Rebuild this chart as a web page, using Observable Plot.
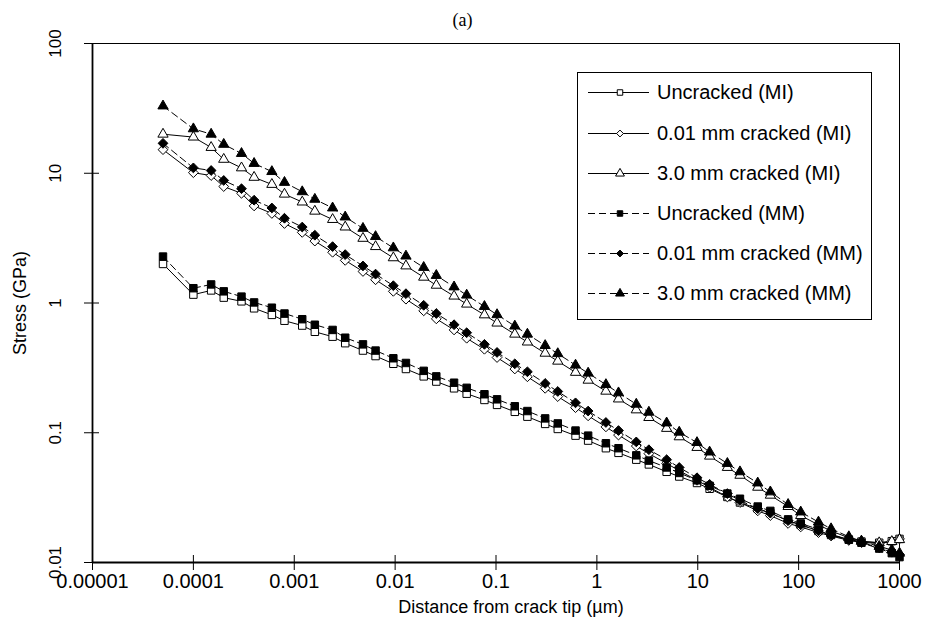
<!DOCTYPE html>
<html>
<head>
<meta charset="utf-8">
<script src="https://cdn.jsdelivr.net/npm/d3@7"></script>
<script src="https://cdn.jsdelivr.net/npm/@observablehq/plot@0.6"></script>
<style>
  body { margin: 0; background: #fff; font-family: "Liberation Sans", Arial, sans-serif; }
  #wrap { position: relative; width: 925px; height: 637px; padding-top: 30px; box-sizing: border-box; }
  #title { position: absolute; left: 0; top: 7px; width: 925px; text-align: center; line-height: 26px;
           font-family: "Liberation Serif", "Times New Roman", serif; font-size: 18px; color: #000; }
  #legend { position: absolute; left: 577px; top: 72px; width: 293px; height: 246px; border: 1px solid #000;
            background: #fff; }
  .row { position: absolute; left: 0; height: 20px; width: 293px; }
  .row svg { position: absolute; left: 10px; top: 0; }
  .row span { position: absolute; left: 79px; top: 0; line-height: 20px; font-size: 20px; color: #000; white-space: nowrap; }
</style>
</head>
<body>
<div id="wrap">
  <div id="title">(a)</div>
  <div id="chart"></div>
  <div id="legend"></div>
</div>
<script>
// ---- data ----
const xs = [0.00005, 0.0001, 0.00015, 0.0002, 0.0003, 0.0004, 0.0006, 0.0008, 0.0012, 0.0016,
            0.0024, 0.0032, 0.0048, 0.0064, 0.0096, 0.0128, 0.0192, 0.0256, 0.0384, 0.0512,
            0.0768, 0.1024, 0.1536, 0.2048, 0.3072, 0.4096, 0.6144, 0.8192, 1.229, 1.638,
            2.458, 3.277, 4.915, 6.554, 9.83, 13.11, 19.66, 26.21, 39.32, 52.43,
            78.64, 104.9, 157.3, 209.7, 314.6, 419.4, 629.1, 838.9, 1000];

const uncrackedMI = [2.0, 1.16, 1.25, 1.1, 1.03, 0.91, 0.81, 0.73, 0.67, 0.60,
                     0.55, 0.49, 0.43, 0.39, 0.34, 0.31, 0.272, 0.248, 0.22, 0.20,
                     0.179, 0.164, 0.145, 0.133, 0.117, 0.107, 0.095, 0.087, 0.076, 0.070,
                     0.062, 0.057, 0.050, 0.046, 0.041, 0.037, 0.032, 0.029, 0.026, 0.024,
                     0.021, 0.0195, 0.0175, 0.0163, 0.015, 0.0145, 0.0142, 0.0146, 0.0152];
const crack001MI = [15.2, 10.1, 9.6, 7.9, 7.0, 5.6, 4.9, 4.1, 3.5, 3.0,
                    2.46, 2.13, 1.75, 1.51, 1.23, 1.07, 0.87, 0.755, 0.62, 0.535,
                    0.44, 0.38, 0.31, 0.27, 0.22, 0.19, 0.156, 0.135, 0.111, 0.096,
                    0.079, 0.069, 0.058, 0.051, 0.043, 0.038, 0.032, 0.029, 0.025, 0.023,
                    0.020, 0.0188, 0.017, 0.016, 0.0148, 0.0143, 0.0140, 0.0145, 0.0152];
const crack30MI = [20, 19, 15.8, 12.8, 11, 9.3, 8.2, 6.9, 6.0, 5.1,
                   4.4, 3.85, 3.15, 2.72, 2.23, 1.93, 1.58, 1.37, 1.13, 0.98,
                   0.81, 0.70, 0.575, 0.50, 0.41, 0.356, 0.292, 0.254, 0.209, 0.182,
                   0.150, 0.131, 0.108, 0.093, 0.077, 0.066, 0.054, 0.047, 0.038, 0.033,
                   0.027, 0.023, 0.0195, 0.0175, 0.0155, 0.0146, 0.0142, 0.0145, 0.0150];
const uncrackedMM = [2.28, 1.3, 1.39, 1.23, 1.12, 1.01, 0.92, 0.83, 0.75, 0.68,
                     0.62, 0.54, 0.48, 0.43, 0.375, 0.345, 0.30, 0.272, 0.243, 0.222,
                     0.198, 0.181, 0.160, 0.147, 0.129, 0.118, 0.104, 0.095, 0.083, 0.076,
                     0.067, 0.061, 0.054, 0.049, 0.043, 0.039, 0.034, 0.031, 0.027, 0.025,
                     0.0215, 0.020, 0.018, 0.0165, 0.015, 0.0142, 0.0128, 0.0118, 0.011];
const crack001MM = [17, 11, 10.5, 8.8, 7.6, 6.2, 5.4, 4.5, 3.85, 3.33,
                    2.72, 2.36, 1.93, 1.67, 1.36, 1.18, 0.96, 0.83, 0.68, 0.59,
                    0.48, 0.416, 0.34, 0.295, 0.24, 0.208, 0.170, 0.147, 0.12, 0.104,
                    0.085, 0.074, 0.062, 0.054, 0.045, 0.040, 0.034, 0.030, 0.026, 0.024,
                    0.021, 0.0195, 0.0175, 0.0163, 0.015, 0.0143, 0.013, 0.012, 0.0115];
const crack30MM = [33, 22, 20, 16.7, 14.2, 11.9, 10.3, 8.5, 7.2, 6.3,
                   5.4, 4.6, 3.76, 3.25, 2.66, 2.30, 1.88, 1.63, 1.33, 1.15,
                   0.94, 0.813, 0.664, 0.575, 0.470, 0.407, 0.332, 0.288, 0.235, 0.203,
                   0.166, 0.144, 0.119, 0.101, 0.084, 0.071, 0.058, 0.050, 0.041, 0.035,
                   0.028, 0.0245, 0.0205, 0.0182, 0.0158, 0.0146, 0.0133, 0.0125, 0.0118];

const seriesNames = ["Uncracked (MI)", "0.01 mm cracked (MI)", "3.0 mm cracked (MI)",
                     "Uncracked (MM)", "0.01 mm cracked (MM)", "3.0 mm cracked (MM)"];
const seriesValues = [uncrackedMI, crack001MI, crack30MI, uncrackedMM, crack001MM, crack30MM];

const xTicks = [0.00001, 0.0001, 0.001, 0.01, 0.1, 1, 10, 100, 1000];
const xTickLabels = ["0.00001", "0.0001", "0.001", "0.01", "0.1", "1", "10", "100", "1000"];
const yTicks = [0.01, 0.1, 1, 10, 100];
const yTickLabels = ["0.01", "0.1", "1", "10", "100"];
const xTitle = "Distance from crack tip (\u00b5m)";
const yTitle = "Stress (GPa)";

// ---- styles ----
const symbols = ["square", "diamond2", "triangle", "square", "diamond2", "triangle"];
const fills = ["white", "white", "white", "black", "black", "black"];
const dashes = [null, null, null, "7,4", "7,4", "7,4"];
const radii = [4.2, 4.4, 3.8, 4.2, 4.4, 3.8];

const marks = [
  Plot.frame({stroke: "#000", strokeWidth: 1}),
  Plot.ruleX([1e-5], {stroke: "#000", strokeWidth: 1.8}),
  Plot.ruleY([0.01], {stroke: "#000", strokeWidth: 2}),
  Plot.axisX(xTicks, {tickSize: 15, dy: -7, tickPadding: 3, label: null, fontSize: 20,
    tickFormat: d => xTickLabels[xTicks.indexOf(d)]}),
  Plot.axisY(yTicks, {tickSize: 15, dx: 7, label: null, tickFormat: () => ""}),
  Plot.text(yTicks, {x: () => 1e-5, y: d => d, text: d => yTickLabels[yTicks.indexOf(d)],
    rotate: () => -90, dx: -37, fontSize: 17, fill: "#000", textAnchor: "middle", lineAnchor: "middle"}),
  Plot.text([xTitle], {frameAnchor: "bottom", dy: 50, dx: 15, fontSize: 18, fill: "#000", textAnchor: "middle"}),
  Plot.text([yTitle], {frameAnchor: "left", dx: -72, rotate: -90, fontSize: 18, fill: "#000", textAnchor: "middle"})
];

seriesValues.forEach((vals, s) => {
  const data = xs.map((x, i) => ({x, y: vals[i]}));
  marks.push(Plot.line(data, {x: "x", y: "y", stroke: "#000", strokeWidth: 1,
    strokeDasharray: dashes[s] || undefined}));
});
seriesValues.forEach((vals, s) => {
  const data = xs.map((x, i) => ({x, y: vals[i]}));
  marks.push(Plot.dot(data, {x: "x", y: "y", symbol: symbols[s], r: radii[s],
    fill: fills[s], stroke: "#000", strokeWidth: 1}));
});

const chart = Plot.plot({
  width: 925, height: 607,
  marginTop: 13, marginBottom: 75, marginLeft: 92, marginRight: 26,
  x: {type: "log", domain: [1e-5, 1000]},
  y: {type: "log", domain: [0.01, 100]},
  style: {fontFamily: "'Liberation Sans', Arial, sans-serif", fontSize: "19px", color: "#000", background: "white", overflow: "visible"},
  marks
});
document.getElementById("chart").appendChild(chart);

// ---- legend ----
const legend = document.getElementById("legend");
const rowCenters = [19, 60, 100, 140, 180, 220];
const symMap = {square: d3.symbolSquare, diamond2: d3.symbolDiamond2, triangle: d3.symbolTriangle};
seriesNames.forEach((name, s) => {
  const row = document.createElement("div");
  row.className = "row";
  row.style.top = (rowCenters[s] - 10) + "px";
  const svg = d3.create("svg").attr("width", 64).attr("height", 20);
  svg.append("line").attr("x1", 0).attr("x2", 61).attr("y1", 10.5).attr("y2", 10.5)
    .attr("stroke", "#000").attr("stroke-width", 1)
    .attr("stroke-dasharray", dashes[s]);
  const size = s % 3 === 2 ? 34 : 30;
  svg.append("path").attr("d", d3.symbol(symMap[symbols[s]], size)())
    .attr("transform", "translate(32,10.5)")
    .attr("fill", fills[s]).attr("stroke", "#000").attr("stroke-width", 1);
  row.appendChild(svg.node());
  const span = document.createElement("span");
  span.textContent = name;
  row.appendChild(span);
  legend.appendChild(row);
});
</script>
</body>
</html>
